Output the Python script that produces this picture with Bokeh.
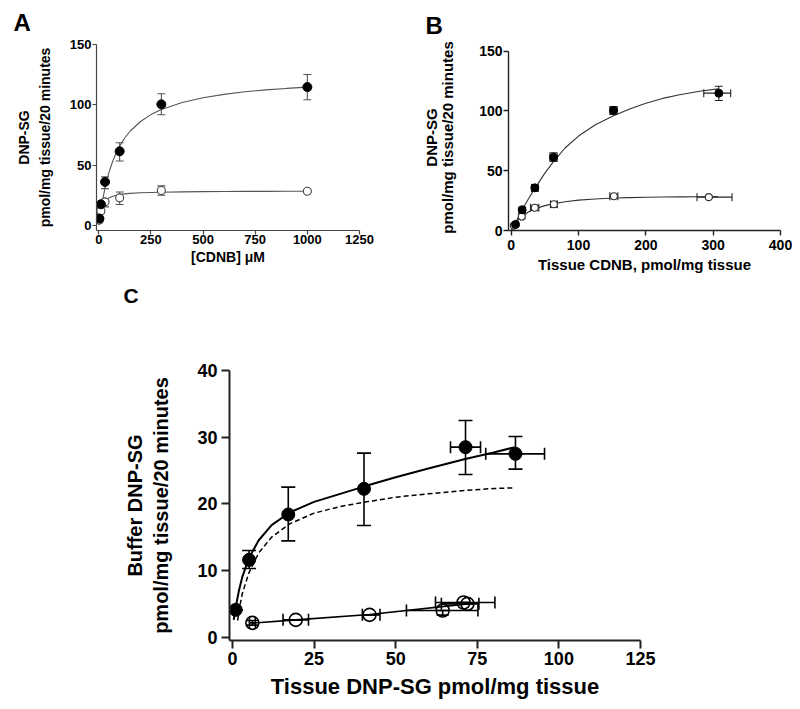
from bokeh.plotting import figure
from bokeh.layouts import column, row
from bokeh.models import ColumnDataSource, Whisker, TeeHead, FixedTicker, Title
from bokeh.embed import file_html
from bokeh.resources import INLINE

FONT = "Liberation Sans"

# ---------------- Panel A data ----------------
a_conc = [3, 10, 30, 100, 300, 1000]
a_fill = [5.8, 17.6, 36.1, 61.5, 100.4, 114.7]
a_fill_lo = [4.5, 15.5, 30.6, 53.5, 91.8, 104.2]
a_fill_hi = [7.0, 19.5, 40.3, 68.6, 109.2, 125.2]
a_open = [4.5, 12.0, 19.6, 22.9, 29.0, 28.4]
a_open_lo = [3.5, 10.5, 15.4, 17.4, 25.1, 27.6]
a_open_hi = [5.5, 13.5, 21.8, 27.8, 32.8, 29.2]
a_fit_x = [0, 5, 10, 20, 30, 40, 50, 65, 80, 100, 125, 150, 200, 250, 300,
           400, 500, 600, 700, 800, 900, 1000]
a_fit_fill = [0.5, 6.6, 12.5, 22.7, 31.3, 38.5, 44.6, 52.4, 58.8, 65.8, 72.7, 78.1,
              86.2, 91.9, 96.2, 102.0, 105.9, 108.7, 110.8, 112.4, 113.6, 114.7]
a_fit_open = [0.5, 8.2, 12.8, 17.9, 20.4, 22.0, 23.0, 24.1, 24.9, 25.6, 26.2, 26.6,
              27.1, 27.4, 27.6, 27.9, 28.1, 28.2, 28.3, 28.3, 28.4, 28.4]
a_xticks = [0, 250, 500, 750, 1000, 1250]
a_yticks = [0, 50, 100, 150]

# ---------------- Panel B data ----------------
b_fill_x = [6.4, 16.3, 35.1, 62.9, 152.0, 308.4]
b_fill = [5.0, 17.3, 35.7, 61.3, 100.4, 114.9]
b_fill_ylo = [4.0, 15.3, 32.9, 57.7, 97.0, 108.7]
b_fill_yhi = [6.0, 19.5, 37.6, 65.0, 103.7, 120.7]
b_fill_xlo = [5.0, 14.5, 30.2, 57.4, 146.5, 286.0]
b_fill_xhi = [7.8, 18.0, 40.1, 68.3, 157.4, 326.0]
b_open_x = [4.0, 15.8, 35.0, 63.4, 152.5, 293.6]
b_open = [4.2, 11.7, 19.0, 22.0, 28.7, 27.9]
b_open_ylo = [3.5, 9.8, 17.5, 19.5, 27.5, 27.0]
b_open_yhi = [5.0, 13.9, 20.5, 24.3, 29.8, 28.8]
b_open_xlo = [3.0, 14.0, 28.7, 58.4, 146.5, 276.0]
b_open_xhi = [5.0, 17.6, 41.0, 68.3, 158.4, 328.0]
b_fit_x = [0, 5, 10, 16, 25, 35, 50, 62, 80, 100, 125, 152, 175, 200, 225, 250, 280, 307]
b_fit_fill = [0, 5, 10.5, 17, 26, 35, 48, 57, 69, 79, 88.5, 96, 101.5, 106.5, 110.5,
              113.5, 116.5, 118.5]
b_fit_open = [0, 4.5, 8.5, 11.7, 15.3, 18.1, 20.8, 22.3, 24.0, 25.4, 26.4, 27.2, 27.5,
              27.8, 28.0, 28.1, 28.2, 28.3]
b_xticks = [0, 100, 200, 300, 400]
b_yticks = [0, 50, 100, 150]

# ---------------- Panel C data ----------------
c_fill_x = [1.0, 5.1, 17.1, 40.3, 71.4, 86.7]
c_fill = [4.1, 11.6, 18.4, 22.25, 28.5, 27.5]
c_fill_ylo = [4.1, 10.3, 14.45, 16.75, 24.4, 25.2]
c_fill_yhi = [4.1, 13.0, 22.5, 27.6, 32.5, 30.1]
c_fill_xlo = [1.0, 5.1, 17.1, 40.3, 66.8, 77.6]
c_fill_xhi = [1.0, 5.1, 17.1, 40.3, 76.0, 95.6]
c_open_x = [6.1, 19.4, 42.0, 64.4, 70.8, 72.0]
c_open = [2.15, 2.6, 3.35, 4.0, 5.2, 5.0]
c_open_ylo = [1.8, 2.6, 3.35, 3.3, 5.2, 5.0]
c_open_yhi = [2.5, 2.6, 3.35, 4.0, 5.2, 5.0]
c_open_xlo = [5.2, 15.5, 39.8, 53.3, 62.2, 64.0]
c_open_xhi = [7.0, 23.3, 45.2, 75.2, 80.4, 75.5]
c_fit_fill_x = [0.4, 1, 2, 3, 5, 8, 12, 17.5, 25, 33, 41, 50, 60, 71, 80, 86.5]
c_fit_fill = [2.6, 4.5, 7.0, 9.0, 11.8, 14.5, 16.8, 18.7, 20.3, 21.5, 22.7, 24.0, 25.3,
              26.7, 27.7, 28.5]
c_fit_dash_x = [1.6, 2, 3, 5, 8, 12, 17.5, 25, 33, 41, 50, 60, 71, 80, 86.5]
c_fit_dash = [2.5, 4.0, 6.5, 9.6, 12.6, 15.0, 17.0, 18.6, 19.6, 20.3, 21.0, 21.5, 22.0,
              22.3, 22.4]
c_fit_open_x = [6.1, 19.4, 42.0, 72.0]
c_fit_open = [2.1, 2.6, 3.4, 5.0]
c_xticks = [0, 25, 50, 75, 100, 125]
c_yticks = [0, 10, 20, 30, 40]


def make_fig(xr, yr, fw, fh, bl, br, bt, bb):
    p = figure(x_range=xr, y_range=yr, frame_width=fw, frame_height=fh,
               min_border_left=bl, min_border_right=br, min_border_top=bt,
               min_border_bottom=bb, output_backend="svg", toolbar_location=None)
    p.grid.visible = False
    p.outline_line_color = None
    p.background_fill_color = "white"
    p.border_fill_color = "white"
    return p


def style_axes(p, xticks, yticks, tick_px, lab_px, lw, tick_out, color,
               xl_std, yl_std, xt_std, yt_std, lh):
    p.xaxis.ticker = FixedTicker(ticks=xticks)
    p.yaxis.ticker = FixedTicker(ticks=yticks)
    for ax in (p.xaxis[0], p.yaxis[0]):
        ax.axis_line_width = lw
        ax.axis_line_color = color
        ax.major_tick_line_width = lw
        ax.major_tick_line_color = color
        ax.major_tick_out = tick_out
        ax.major_tick_in = 0
        ax.minor_tick_line_color = None
        ax.major_label_text_font = FONT
        ax.major_label_text_font_style = "bold"
        ax.major_label_text_font_size = f"{tick_px}px"
        ax.major_label_text_color = "black"
        ax.axis_label_text_font = FONT
        ax.axis_label_text_font_style = "bold"
        ax.axis_label_text_font_size = f"{lab_px}px"
        ax.axis_label_text_color = "black"
        ax.axis_label_text_line_height = lh
    p.xaxis[0].axis_label_standoff = xl_std
    p.yaxis[0].axis_label_standoff = yl_std
    p.xaxis[0].major_label_standoff = xt_std
    p.yaxis[0].major_label_standoff = yt_std


def whisk(p, base, lo, hi, dim, color, lw, cap):
    src = ColumnDataSource(dict(base=base, lower=lo, upper=hi))
    w = Whisker(source=src, base="base", lower="lower", upper="upper", dimension=dim,
                line_color=color, line_width=lw, level="underlay",
                upper_head=TeeHead(size=cap, line_color=color, line_width=lw),
                lower_head=TeeHead(size=cap, line_color=color, line_width=lw))
    p.add_layout(w)


def letter_title(txt, size, offset, standoff):
    return Title(text=txt, text_font=FONT, text_font_style="bold",
                 text_font_size=f"{size}px", text_color="black", align="left",
                 vertical_align="top", offset=offset, standoff=standoff)


TOP = 44
FH = 186
BOT = 100
ROW_H = TOP + FH + BOT

# ---------------- Panel A ----------------
pA = make_fig((-11, 1250), (-4.14, 150), 263, FH, 96, 41, TOP, BOT)
style_axes(pA, a_xticks, a_yticks, 13, 14, 1.2, 4, "#444444", 2, 14, 0, 1, 1.3)
pA.xaxis.axis_label = "[CDNB] \u03bcM"
pA.yaxis.axis_label = "DNP-SG\npmol/mg tissue/20 minutes"
pA.line(a_fit_x, a_fit_fill, line_color="#555555", line_width=1.1)
pA.line(a_fit_x, a_fit_open, line_color="#555555", line_width=1.1)
whisk(pA, a_conc, a_fill_lo, a_fill_hi, "height", "#555555", 1.1, 8)
whisk(pA, a_conc, a_open_lo, a_open_hi, "height", "#555555", 1.1, 8)
pA.scatter(a_conc, a_open, size=8, marker="circle", fill_color="white",
           line_color="#444444", line_width=1.1)
pA.scatter(a_conc, a_fill, size=9, marker="circle", fill_color="black", line_color="black")
pA.title = letter_title("A", 24, -83, 14)
# panel letter "C" sits just under the top row, left of panel C
pA.add_layout(letter_title("C", 21, 27, 32), "below")

# ---------------- Panel B ----------------
pB = make_fig((-4, 400), (0, 155.6), 272, FH, 108, 12, TOP, BOT)
style_axes(pB, b_xticks, b_yticks, 14, 15, 1.4, 5, "#222222", 3, 20, 4, 1, 0.95)
pB.yaxis[0].bounds = (0, 150)
pB.xaxis.axis_label = "Tissue CDNB, pmol/mg tissue"
pB.yaxis.axis_label = "DNP-SG\npmol/mg tissue/20 minutes"
pB.line(b_fit_x, b_fit_fill, line_color="#333333", line_width=1.1)
pB.line(b_fit_x, b_fit_open, line_color="#333333", line_width=1.1)
whisk(pB, b_fill_x, b_fill_ylo, b_fill_yhi, "height", "#222222", 1.1, 8)
whisk(pB, b_fill, b_fill_xlo, b_fill_xhi, "width", "#222222", 1.1, 8)
whisk(pB, b_open_x, b_open_ylo, b_open_yhi, "height", "#222222", 1.1, 8)
whisk(pB, b_open, b_open_xlo, b_open_xhi, "width", "#222222", 1.1, 8)
pB.scatter(b_open_x, b_open, size=7, marker="circle", fill_color="white",
           line_color="#333333", line_width=1.1)
pB.scatter(b_fill_x, b_fill, size=8, marker="circle", fill_color="black", line_color="black")
pB.title = letter_title("B", 24, -83, 8)

# ---------------- Panel C ----------------
C_TOP = 370 - ROW_H
pC = make_fig((-0.9, 125), (-0.5, 40), 411, 270, 229, 150, C_TOP, 64)
style_axes(pC, c_xticks, c_yticks, 18, 22, 2, 8, "#222222", 6, 22, 3, 4, 1.2)
pC.yaxis[0].axis_label_text_font_size = "20px"
pC.xaxis.axis_label = "Tissue DNP-SG pmol/mg tissue"
pC.yaxis.axis_label = "Buffer DNP-SG\npmol/mg tissue/20 minutes"
pC.line(c_fit_fill_x, c_fit_fill, line_color="black", line_width=2)
pC.line(c_fit_dash_x, c_fit_dash, line_color="black", line_width=1.5, line_dash="5 3")
pC.line(c_fit_open_x, c_fit_open, line_color="black", line_width=1.6)
whisk(pC, c_fill_x, c_fill_ylo, c_fill_yhi, "height", "black", 1.6, 14)
whisk(pC, c_fill, c_fill_xlo, c_fill_xhi, "width", "black", 1.6, 12)
whisk(pC, c_open_x, c_open_ylo, c_open_yhi, "height", "black", 1.6, 12)
whisk(pC, c_open, c_open_xlo, c_open_xhi, "width", "black", 1.6, 12)
pC.scatter(c_open_x, c_open, size=13, marker="circle", fill_color="white",
           line_color="black", line_width=1.6, fill_alpha=0)
pC.scatter(c_fill_x, c_fill, size=13, marker="circle", fill_color="black", line_color="black")

layout = column(row(pA, pB), pC)
open("out.html", "w").write(file_html(layout, INLINE))
